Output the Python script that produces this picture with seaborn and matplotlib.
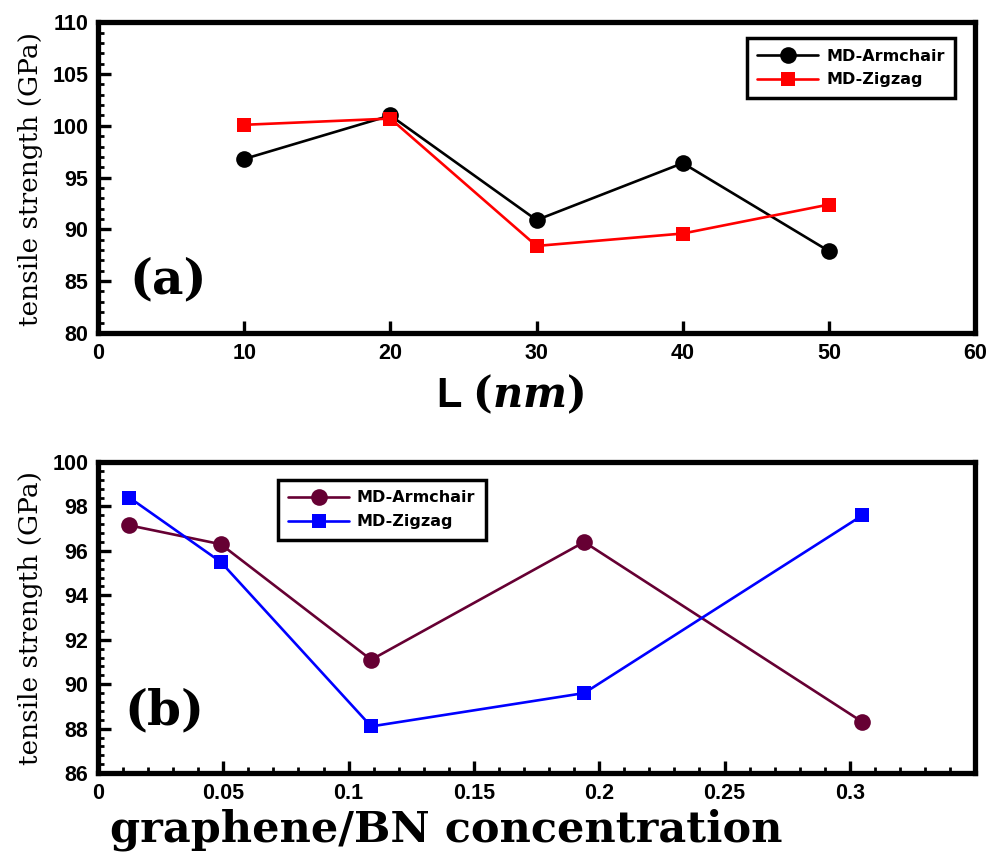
import seaborn as sns
import matplotlib.pyplot as plt
import matplotlib.ticker as mticker
import numpy as np
import pandas as pd

# panel (a): tensile strength vs length
length_nm = [10, 20, 30, 40, 50]
armchair_a = [96.8, 101.0, 90.9, 96.4, 87.9]
zigzag_a = [100.1, 100.7, 88.4, 89.6, 92.4]

# panel (b): tensile strength vs graphene/BN concentration
conc = [0.0125, 0.049, 0.109, 0.194, 0.305]
armchair_b = [97.15, 96.3, 91.1, 96.4, 88.3]
zigzag_b = [98.4, 95.5, 88.1, 89.6, 97.6]

xticks_a = [0, 10, 20, 30, 40, 50, 60]
yticks_a = [80, 85, 90, 95, 100, 105, 110]
xticks_b = [0, 0.05, 0.1, 0.15, 0.2, 0.25, 0.3]
xticklabels_b = ['0', '0.05', '0.1', '0.15', '0.2', '0.25', '0.3']
yticks_b = [86, 88, 90, 92, 94, 96, 98, 100]

sns.set_style("ticks")
plt.rcParams['font.family'] = ['Liberation Sans', 'DejaVu Sans']
plt.rcParams['text.color'] = 'black'
plt.rcParams['axes.labelcolor'] = 'black'
plt.rcParams['xtick.color'] = 'black'
plt.rcParams['ytick.color'] = 'black'
plt.rcParams['mathtext.fontset'] = 'custom'
plt.rcParams['mathtext.rm'] = 'DejaVu Serif:bold'
plt.rcParams['mathtext.it'] = 'DejaVu Serif:italic:bold'

fig = plt.figure(figsize=(9.9, 8.58), dpi=100)
ax1 = fig.add_axes([0.099, 0.612, 0.886, 0.362])
ax2 = fig.add_axes([0.099, 0.099, 0.886, 0.3625])

line_kw = dict(linewidth=1.9, markeredgewidth=0)
leg_kw = dict(borderaxespad=0, fancybox=False, edgecolor='black',
              framealpha=1, handlelength=3.8, borderpad=0.65,
              labelspacing=0.55, handletextpad=0.5,
              prop={'family': 'DejaVu Sans', 'weight': 'bold', 'size': 11.5})


def style_axis(ax):
    for sp in ax.spines.values():
        sp.set_linewidth(3.8)
        sp.set_color('black')
    ax.tick_params(which='major', direction='in', length=9, width=2.4,
                   top=False, right=False, labelsize=15.5, pad=7)
    ax.tick_params(which='minor', direction='in', length=4.5, width=2,
                   top=False, right=False)
    for lab in ax.get_xticklabels() + ax.get_yticklabels():
        lab.set_fontweight('bold')


# ---- panel (a) ----
sns.lineplot(x=length_nm, y=armchair_a, ax=ax1, color='black', marker='o',
             markersize=12, label='MD-Armchair', **line_kw)
sns.lineplot(x=length_nm, y=zigzag_a, ax=ax1, color='#ff0000', marker='s',
             markersize=10.5, label='MD-Zigzag', **line_kw)
ax1.set_xlim(0, 60)
ax1.set_ylim(80, 110)
ax1.set_xticks(xticks_a)
ax1.set_yticks(yticks_a)
ax1.yaxis.set_minor_locator(mticker.MultipleLocator(1))
style_axis(ax1)
ax1.set_ylabel('tensile strength (GPa)', family='DejaVu Serif', fontsize=19)
ax1.yaxis.set_label_coords(-0.063, 0.495)
ax1.set_xlabel(r'L $(\mathit{nm})$', fontsize=30, fontweight='bold')
ax1.xaxis.set_label_coords(0.47, -0.13)
ax1.text(0.036, 0.17, '(a)', transform=ax1.transAxes, family='DejaVu Serif',
         fontsize=35, fontweight='bold', va='center', ha='left')
leg1 = ax1.legend(loc='upper right', bbox_to_anchor=(0.977, 0.949), **leg_kw)
leg1.get_frame().set_linewidth(2.5)

# ---- panel (b) ----
sns.lineplot(x=conc, y=armchair_b, ax=ax2, color='#660033', marker='o',
             markersize=12, label='MD-Armchair', **line_kw)
sns.lineplot(x=conc, y=zigzag_b, ax=ax2, color='#0000ff', marker='s',
             markersize=10.5, label='MD-Zigzag', **line_kw)
ax2.set_xlim(0, 0.35)
ax2.set_ylim(86, 100)
ax2.set_xticks(xticks_b)
ax2.set_xticklabels(xticklabels_b)
ax2.set_yticks(yticks_b)
ax2.xaxis.set_minor_locator(mticker.MultipleLocator(0.01))
ax2.yaxis.set_minor_locator(mticker.MultipleLocator(0.4))
style_axis(ax2)
ax2.set_ylabel('tensile strength (GPa)', family='DejaVu Serif', fontsize=19)
ax2.yaxis.set_label_coords(-0.063, 0.5)
ax2.set_xlabel('graphene/BN concentration', family='DejaVu Serif',
               fontsize=31, fontweight='bold')
ax2.xaxis.set_label_coords(0.397, -0.115)
ax2.text(0.03, 0.2, '(b)', transform=ax2.transAxes, family='DejaVu Serif',
         fontsize=35, fontweight='bold', va='center', ha='left')
leg2 = ax2.legend(loc='upper left', bbox_to_anchor=(0.205, 0.942), **leg_kw)
leg2.get_frame().set_linewidth(2.5)

fig.savefig('out.png', dpi=100)
